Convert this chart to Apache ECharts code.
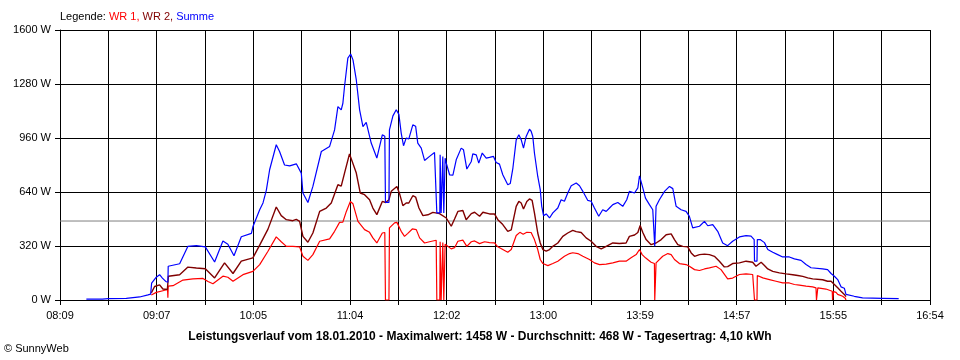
<!DOCTYPE html>
<html><head><meta charset="utf-8">
<script src="https://cdn.jsdelivr.net/npm/echarts@6/dist/echarts.min.js"></script>
<style>html,body{margin:0;padding:0;background:#fff}#c{width:960px;height:360px}</style>
</head><body><div id="c"></div>
<script>
// Time axis: minutes since midnight
const dayStart = 489;   // 08:09
const dayEnd = 1014;    // 16:54
const xTickLabels = ['08:09','09:07','10:05','11:04','12:02','13:00','13:59','14:57','15:55','16:54'];
const yMax = 1600;
const yStep = 320;
const average = 468;

const wr1Times = [544.1,547.1,551.1,553.9,554.1,554.3,557.2,563.2,569.2,575.3,578.3,581.3,587.3,590.3,593.4,599.4,605.4,609.5,614.5,619.5,622.5,625.6,629.5,631.6,633.6,635.6,638.6,641.6,645.7,651.7,654.7,657.7,659.7,661.8,664.2,665.8,668.8,672.8,675.8,677.8,680.2,683.5,685.0,685.4,687.5,687.8,690.9,692.3,694.9,696.9,698.9,701.6,704.0,706.0,709.0,712.0,716.0,716.4,718.2,718.4,718.8,719.0,719.8,720.0,720.4,720.6,721.2,721.4,722.1,725.1,727.1,729.1,732.1,734.5,737.2,739.2,742.2,745.2,748.2,751.2,753.2,756.2,759.2,761.3,764.3,766.5,768.5,770.7,773.3,775.3,777.3,778.8,780.4,783.4,786.4,789.4,793.4,796.5,798.4,801.5,804.5,808.5,811.5,814.6,818.6,822.6,826.6,830.6,833.6,836.7,838.7,840.3,842.3,845.7,847.7,847.9,848.5,848.7,849.7,852.7,855.8,857.8,859.8,862.8,866.8,868.8,871.9,874.9,877.9,880.9,884.9,887.9,891.9,894.9,899.0,903.0,907.0,907.9,908.1,909.6,909.8,910.1,913.1,917.1,921.1,925.1,929.1,932.2,935.2,939.2,943.2,945.2,945.5,946.0,946.3,951.2,955.0,955.2,955.6,955.8,957.3,958.3,961.3,962.9,963.3];
const wr1Values = [30,45,55,62,13,82,85,118,125,128,110,96,141,135,111,150,170,210,289,374,345,318,318,316,315,259,235,269,348,362,407,460,462,525,584,570,466,417,401,368,338,397,400,0,0,427,457,460,407,377,395,421,417,368,338,345,354,0,0,345,345,0,0,340,340,0,0,330,328,303,310,348,355,318,345,350,334,345,340,338,315,299,283,299,382,401,390,401,400,358,299,240,216,204,216,230,259,275,280,275,259,240,220,210,213,220,230,230,250,269,299,269,250,224,216,0,0,220,224,259,275,269,240,216,210,200,180,175,184,190,200,180,125,130,151,155,151,150,0,0,145,140,131,121,111,101,101,92,88,82,78,72,0,0,72,65,52,0,0,50,45,33,22,10,0];

const wr2Times = [544.1,546.1,549.1,551.1,553.8,554.4,561.2,566.2,571.3,576.7,582.3,588.3,593.4,598.4,605.4,609.5,614.5,619.5,622.5,625.6,629.5,631.6,633.6,635.6,638.6,641.6,645.7,649.7,652.7,656.7,658.7,660.7,663.7,664.8,667.8,670.2,672.8,675.8,677.8,680.2,683.5,685.5,687.5,688.9,692.3,693.9,695.9,697.9,699.5,701.9,703.6,705.6,708.0,711.0,714.0,718.0,722.1,725.1,727.1,729.1,732.1,734.1,737.2,739.2,742.2,744.2,748.2,751.2,753.2,756.2,759.2,761.3,764.3,765.9,767.3,768.7,770.7,772.3,773.9,775.3,777.3,778.8,780.4,782.4,784.4,786.4,789.4,792.4,795.4,798.4,800.5,803.5,806.5,809.5,812.5,815.6,818.6,822.6,826.6,830.6,832.6,835.7,837.7,839.1,840.7,842.7,845.7,846.7,848.7,851.8,854.8,857.8,859.8,861.8,864.8,867.8,869.9,871.9,874.9,877.9,880.9,883.9,886.9,889.9,891.9,894.9,899.0,903.0,907.0,909.0,910.1,912.1,914.1,916.1,919.1,923.1,927.2,931.2,934.2,937.2,940.2,943.2,949.2,952.2,954.3,956.3,958.3,960.3,962.3,963.3];
const wr2Values = [42,80,90,65,62,141,150,195,190,185,131,220,157,230,250,325,420,551,500,476,470,478,466,377,342,397,525,545,575,683,675,752,866,860,752,634,624,594,545,506,584,578,594,644,673,630,559,575,575,618,610,545,500,505,519,512,486,437,480,525,530,476,512,520,496,520,510,510,476,447,407,415,555,584,575,539,584,599,590,516,397,338,299,290,299,318,338,377,397,413,405,400,368,348,318,303,318,338,335,338,377,385,400,441,400,358,328,318,338,358,387,392,358,328,318,315,279,259,269,272,269,259,230,196,198,216,220,230,224,200,204,224,205,184,170,161,155,150,145,140,131,125,120,111,111,92,72,52,33,20];

const sumTimes = [504.9,514.6,518.0,529.0,537.1,542.1,543.7,544.3,547.1,549.1,550.8,552.8,554.1,554.3,561.2,566.2,571.3,576.7,582.3,587.3,590.3,594.0,598.4,604.5,605.4,609.5,611.5,613.5,615.5,619.5,621.5,624.5,627.6,631.6,634.6,635.6,638.6,641.6,646.7,651.7,654.7,656.7,658.7,659.7,660.7,662.7,664.4,665.8,667.8,669.8,671.8,673.8,676.8,680.2,683.5,685.0,685.4,687.5,687.8,689.9,691.9,693.5,694.9,696.3,697.9,699.5,701.9,703.6,704.9,707.0,709.0,712.0,715.0,716.0,716.4,718.2,718.4,718.8,719.0,719.8,720.0,720.4,720.6,721.2,721.4,722.1,724.1,726.1,728.1,731.1,732.5,734.5,737.2,738.1,740.2,741.7,743.8,746.2,748.2,750.6,752.2,754.2,756.2,759.2,760.7,762.3,764.3,765.9,767.3,768.7,770.3,772.3,773.3,774.3,775.3,777.3,778.8,779.7,780.8,782.4,784.4,786.4,789.4,791.4,793.4,795.4,797.5,800.5,802.5,804.5,807.5,809.5,811.5,814.1,816.5,818.6,820.6,822.6,825.6,828.6,831.0,832.6,835.7,837.7,838.7,839.7,840.7,842.3,844.7,846.7,847.7,847.9,848.5,848.7,850.7,853.8,856.8,858.8,860.8,863.8,866.8,868.8,870.8,874.9,877.9,879.9,882.9,885.9,888.9,891.9,894.9,899.0,903.0,906.0,907.9,908.1,909.6,909.8,911.5,912.7,914.1,916.1,919.1,922.1,925.1,929.1,932.2,936.2,939.2,942.2,949.2,952.2,954.3,956.3,958.3,960.3,962.3,963.3,968.3,973.3,985.4,995.1];
const sumValues = [5,5,8,10,18,30,35,100,135,150,130,110,105,200,215,318,322,315,225,350,330,262,375,395,434,535,575,650,772,920,880,800,795,807,752,634,578,673,880,910,1008,1146,1127,1166,1265,1433,1458,1423,1304,1127,1028,1052,930,841,979,970,578,578,1008,1091,1127,1100,989,914,959,955,1038,1030,930,900,827,851,874,870,516,516,860,860,516,516,850,850,516,516,840,811,742,740,831,900,890,776,821,866,860,811,871,841,845,851,815,805,742,683,690,782,949,979,950,900,969,1012,1000,969,871,732,654,555,500,510,486,516,545,594,585,634,677,693,677,644,590,585,545,496,535,525,545,565,578,555,594,644,634,664,736,730,664,604,565,535,530,318,318,555,594,644,673,660,555,535,525,496,427,437,466,440,447,407,338,322,348,374,382,378,358,230,230,358,358,368,340,299,283,269,255,255,244,235,210,191,184,180,157,141,121,78,70,33,22,13,10,8];

const step = (dayEnd - dayStart) / 18;
const toData = (ts, vs) => ts.map((t, i) => [t - dayStart, vs[i]]);
const FONT = '"Liberation Sans", Arial, sans-serif';

const chart = echarts.init(document.getElementById('c'), null, {renderer: 'canvas'});
chart.setOption({
  animation: false,
  backgroundColor: '#ffffff',
  title: {
    left: 60, top: 11, padding: 0,
    text: '{a|Legende: }{b|WR 1, }{c|WR 2, }{d|Summe}',
    textStyle: {
      fontFamily: FONT, fontSize: 11, fontWeight: 'normal',
      rich: {
        a: {color: '#000000', fontFamily: FONT, fontSize: 11},
        b: {color: '#ff0000', fontFamily: FONT, fontSize: 11},
        c: {color: '#800000', fontFamily: FONT, fontSize: 11},
        d: {color: '#0000ff', fontFamily: FONT, fontSize: 11}
      }
    }
  },
  grid: {left: 60, right: 30, top: 30, bottom: 60, containLabel: false},
  xAxis: {
    type: 'value', min: 0, max: dayEnd - dayStart, interval: step,
    axisLine: {show: true, lineStyle: {color: '#000', width: 1}},
    axisTick: {show: true, length: 5, lineStyle: {color: '#000'}},
    splitLine: {show: true, lineStyle: {color: '#000', width: 1}},
    axisLabel: {
      margin: 10, color: '#000', fontFamily: FONT, fontSize: 11,
      formatter: v => { const k = Math.round(v / step); return k % 2 === 0 ? (xTickLabels[k / 2] || '') : ''; }
    }
  },
  yAxis: {
    type: 'value', min: 0, max: yMax, interval: yStep,
    axisLine: {show: true, lineStyle: {color: '#000', width: 1}},
    axisTick: {show: true, length: 5, lineStyle: {color: '#000'}},
    splitLine: {show: true, lineStyle: {color: '#000', width: 1}},
    axisLabel: {margin: 9, color: '#000', fontFamily: FONT, fontSize: 11, formatter: v => v + ' W'}
  },
  graphic: [
    {type: 'text', left: 'center', top: 331, style: {
      text: 'Leistungsverlauf vom 18.01.2010 - Maximalwert: 1458 W - Durchschnitt: 468 W - Tagesertrag: 4,10 kWh',
      font: 'bold 12px "Liberation Sans", Arial, sans-serif', fill: '#000'}},
    {type: 'text', left: 4, top: 343, style: {
      text: '© SunnyWeb', font: '11px "Liberation Sans", Arial, sans-serif', fill: '#000'}}
  ],
  series: [
    {name: 'Durchschnitt', type: 'line', data: [[0, average], [dayEnd - dayStart, average]],
     symbol: 'none', lineStyle: {color: '#808080', width: 1}, silent: true, z: 1},
    {name: 'WR 1', type: 'line', data: toData(wr1Times, wr1Values), symbol: 'none',
     lineStyle: {color: '#ff0000', width: 1.2}, z: 2},
    {name: 'WR 2', type: 'line', data: toData(wr2Times, wr2Values), symbol: 'none',
     lineStyle: {color: '#800000', width: 1.4}, z: 3},
    {name: 'Summe', type: 'line', data: toData(sumTimes, sumValues), symbol: 'none',
     lineStyle: {color: '#0000ff', width: 1.2}, z: 4}
  ]
});
</script></body></html>
